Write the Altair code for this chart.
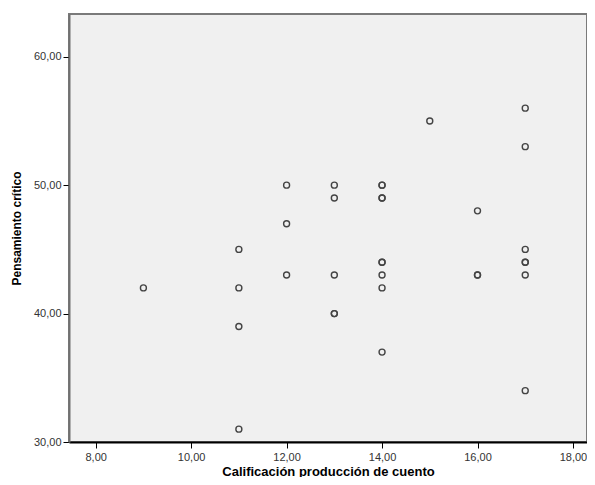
import altair as alt
import pandas as pd

calificacion = [9,
                11, 11, 11, 11,
                12, 12, 12,
                13, 13, 13, 13, 13,
                14, 14, 14, 14, 14, 14, 14, 14, 14,
                15,
                16, 16, 16,
                17, 17, 17, 17, 17, 17, 17]
pensamiento = [42,
               45, 42, 39, 31,
               50, 47, 43,
               50, 49, 43, 40, 40,
               50, 50, 49, 49, 44, 44, 43, 42, 37,
               55,
               48, 43, 43,
               56, 53, 45, 44, 44, 43, 34]

df = pd.DataFrame({"x": calificacion, "y": pensamiento})

label_expr = "replace(format(datum.value, '.2f'), '.', ',')"

chart = alt.Chart(df).mark_point(
    shape="circle", filled=False, size=36, stroke="#444444", strokeWidth=1.4, opacity=1
).encode(
    x=alt.X("x:Q", scale=alt.Scale(domain=[7.441, 18.294], nice=False, zero=False),
            axis=alt.Axis(title="Calificación producción de cuento", values=[8, 10, 12, 14, 16, 18],
                          labelExpr=label_expr, grid=False, domainColor="#000000", domainWidth=2,
                          tickColor="#000000", tickSize=6, labelFontSize=11, labelColor="#333333",
                          labelFont="Liberation Sans", titleFont="Liberation Sans", titleFontSize=13,
                          titleFontWeight="bold", titleColor="#000000", labelPadding=3, titlePadding=3)),
    y=alt.Y("y:Q", scale=alt.Scale(domain=[30, 63.33], nice=False, zero=False),
            axis=alt.Axis(title="Pensamiento crítico", values=[30, 40, 50, 60],
                          labelExpr=label_expr, grid=False, domainColor="#707070", domainWidth=2,
                          tickColor="#000000", tickSize=6, labelFontSize=11, labelColor="#333333",
                          labelFont="Liberation Sans", titleFont="Liberation Sans", titleFontSize=12,
                          titleFontWeight="bold", titleColor="#000000", labelPadding=2, titlePadding=10)),
).properties(
    width=518, height=428, autosize=alt.AutoSizeParams(type="none"),
    padding={"left": 61, "top": 6, "right": 0, "bottom": 35},
    background="#FFFFFF"
).configure_view(
    fill="#F0F0F0", stroke="#7a7a7a", strokeWidth=2
)

chart.save("out.html", embed_options={"renderer": "svg", "actions": False})
